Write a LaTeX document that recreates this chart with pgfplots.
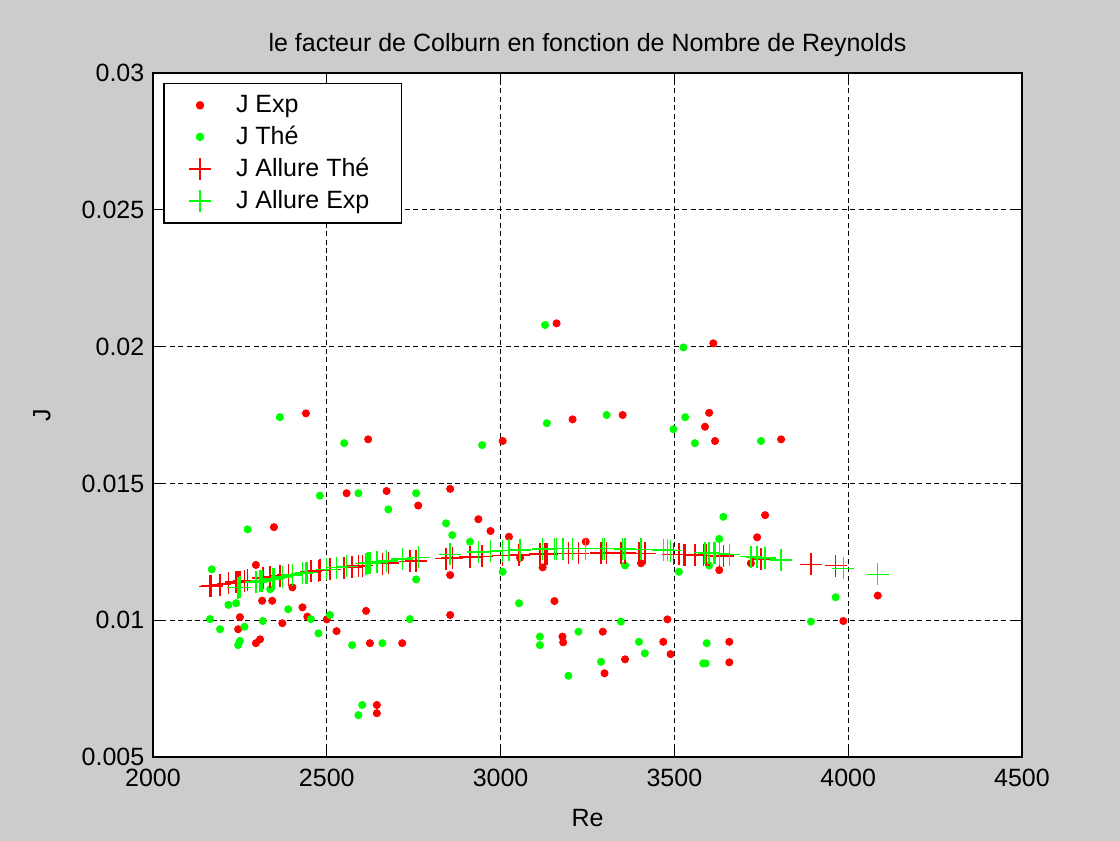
\documentclass[border=0pt]{standalone}
\usepackage{pgfplots}
\pgfplotsset{compat=1.18}
\usepackage{fontspec}
\setmainfont{Liberation Sans}
\definecolor{figbg}{RGB}{204,204,204}
\definecolor{mred}{RGB}{255,0,0}
\definecolor{mgreen}{RGB}{0,255,0}
\begin{document}
\fontsize{12.5}{15}\selectfont
\begin{tikzpicture}[x=1pt,y=1pt]
\fill[figbg] (0,0) rectangle (560,420.5);
\begin{axis}[
  at={(76.5pt,42pt)}, anchor=south west,
  scale only axis, width=434.5pt, height=342pt,
  xmin=2000, xmax=4500, ymin=0.005, ymax=0.03,
  xtick={2000,2500,...,4500},
  ytick={0.005,0.01,...,0.0301},
  yticklabels={0.005,0.01,0.015,0.02,0.025,0.03},
  scaled y ticks=false,
  /pgf/number format/assume math mode=true,
  /pgf/number format/1000 sep={},
  tick label style={font=\fontsize{12.5}{15}\selectfont},
  xticklabel style={yshift=-1.5pt},
  label style={font=\fontsize{12.5}{15}\selectfont},
  title style={font=\fontsize{12.5}{15}\selectfont, yshift=-2pt},
  title={le facteur de Colburn en fonction de Nombre de Reynolds},
  xlabel={Re}, ylabel={J},
  xlabel style={yshift=-3pt},
  ylabel style={yshift=7pt},
  axis background/.style={fill=white},
  axis line style={black, line width=0.6pt},
  tick style={black, line width=0.5pt},
  tick align=inside, major tick length=4pt,
  xtick pos=both, ytick pos=both,
  grid=major,
  major grid style={black, dash pattern=on 2.5pt off 1.7pt, line width=0.6pt},
  legend style={at={(0.012,0.985)}, anchor=north west, draw=black, line width=0.6pt,
    font=\fontsize{12.5}{15}\selectfont, inner xsep=4pt, inner ysep=3.5pt, row sep=1pt,
    legend cell align=left},
  legend image code/.code={\path[draw=none,fill=none] (0pt,0pt) -- (30pt,0pt); \draw[#1] plot coordinates {(14pt,0pt)};},
]
\addplot[only marks, mark=*, mark size=1.8pt, color=mred, mark options={draw=mred, fill=mred}] coordinates {
(2245,0.00967) (2250,0.01011) (2296,0.01202) (2296,0.00916) (2308,0.00930)
(2314,0.01071) (2343,0.01071) (2348,0.01340) (2372,0.00989) (2401,0.01120)
(2430,0.01047) (2440,0.01756) (2444,0.01013) (2500,0.01003) (2528,0.00960)
(2557,0.01464) (2613,0.01034) (2619,0.01661) (2624,0.00916) (2644,0.00690)
(2644,0.00660) (2672,0.01472) (2717,0.00916) (2763,0.01419) (2855,0.01480)
(2855,0.01165) (2855,0.01019) (2936,0.01369) (2971,0.01326) (3006,0.01655)
(3024,0.01305) (3056,0.01228) (3121,0.01193) (3155,0.01070) (3161,0.02085)
(3178,0.00940) (3180,0.00919) (3207,0.01734) (3245,0.01287) (3294,0.00958)
(3299,0.00806) (3351,0.01750) (3358,0.00857) (3404,0.01208) (3468,0.00921)
(3480,0.01003) (3489,0.00876) (3588,0.01707) (3600,0.01758) (3612,0.02012)
(3617,0.01655) (3629,0.01183) (3658,0.00921) (3658,0.00846) (3720,0.01208)
(3738,0.01303) (3761,0.01384) (3807,0.01661) (3986,0.00997) (4085,0.01090)
};
\addlegendentry{J Exp}
\addplot[only marks, mark=*, mark size=1.8pt, color=mgreen, mark options={draw=mgreen, fill=mgreen}] coordinates {
(2164,0.01004) (2169,0.01186) (2193,0.00967) (2217,0.01056) (2239,0.01062)
(2245,0.00909) (2250,0.00924) (2263,0.00976) (2272,0.01332) (2316,0.00997)
(2337,0.01113) (2365,0.01742) (2389,0.01040) (2454,0.01004) (2476,0.00952)
(2480,0.01455) (2509,0.01019) (2550,0.01647) (2573,0.00909) (2591,0.01464)
(2591,0.00653) (2602,0.00690) (2660,0.00916) (2677,0.01405) (2739,0.01004)
(2757,0.01464) (2757,0.01149) (2843,0.01354) (2861,0.01311) (2912,0.01287)
(2947,0.01640) (3006,0.01177) (3053,0.01062) (3113,0.00940) (3113,0.00909)
(3128,0.02079) (3133,0.01720) (3195,0.00797) (3224,0.00958) (3289,0.00848)
(3305,0.01750) (3346,0.00995) (3358,0.01200) (3398,0.00921) (3415,0.00879)
(3497,0.01698) (3513,0.01177) (3526,0.01997) (3531,0.01742) (3559,0.01647)
(3583,0.00842) (3590,0.00842) (3593,0.00916) (3600,0.01200) (3629,0.01297)
(3641,0.01378) (3749,0.01655) (3893,0.00995) (3964,0.01084)
};
\addlegendentry{J Thé}
\addplot[only marks, mark=+, mark size=5.5pt, color=mred, mark options={line width=0.7pt}] coordinates {
(2164,0.01124) (2169,0.01125) (2193,0.01130) (2217,0.01135) (2239,0.01139)
(2245,0.01140) (2250,0.01141) (2263,0.01144) (2272,0.01146) (2316,0.01154)
(2337,0.01158) (2365,0.01163) (2389,0.01167) (2454,0.01178) (2476,0.01181)
(2480,0.01182) (2509,0.01186) (2550,0.01192) (2573,0.01195) (2591,0.01198)
(2602,0.01199) (2660,0.01207) (2677,0.01209) (2739,0.01215) (2757,0.01217)
(2843,0.01225) (2861,0.01227) (2912,0.01231) (2947,0.01233) (3006,0.01237)
(3053,0.01239) (3113,0.01242) (3128,0.01242) (3133,0.01242) (3195,0.01244)
(3224,0.01244) (3289,0.01245) (3305,0.01245) (3346,0.01245) (3358,0.01245)
(3398,0.01244) (3415,0.01244) (3497,0.01241) (3513,0.01241) (3526,0.01240)
(3531,0.01240) (3559,0.01239) (3583,0.01237) (3590,0.01237) (3593,0.01237)
(3600,0.01237) (3629,0.01235) (3641,0.01234) (3749,0.01224) (3893,0.01204)
(3964,0.01199)
};
\addlegendentry{J Allure Thé}
\addplot[only marks, mark=+, mark size=5.5pt, color=mgreen, mark options={line width=0.7pt}] coordinates {
(2245,0.01119) (2250,0.01120) (2296,0.01139) (2308,0.01142) (2314,0.01144)
(2343,0.01151) (2348,0.01152) (2372,0.01158) (2401,0.01165) (2430,0.01171)
(2440,0.01174) (2444,0.01174) (2500,0.01186) (2528,0.01192) (2557,0.01197)
(2613,0.01207) (2619,0.01208) (2624,0.01209) (2644,0.01213) (2672,0.01217)
(2717,0.01224) (2763,0.01230) (2855,0.01241) (2936,0.01249) (2971,0.01252)
(3006,0.01254) (3024,0.01255) (3056,0.01257) (3121,0.01260) (3155,0.01261)
(3161,0.01261) (3178,0.01261) (3180,0.01261) (3207,0.01262) (3245,0.01262)
(3294,0.01262) (3299,0.01262) (3351,0.01261) (3358,0.01260) (3404,0.01259)
(3468,0.01256) (3480,0.01255) (3489,0.01254) (3588,0.01247) (3600,0.01246)
(3612,0.01244) (3617,0.01244) (3629,0.01243) (3658,0.01240) (3720,0.01232)
(3738,0.01230) (3761,0.01227) (3807,0.01220) (3986,0.01189) (4085,0.01168)
};
\addlegendentry{J Allure Exp\hspace*{10pt}}
\end{axis}
\end{tikzpicture}
\end{document}
